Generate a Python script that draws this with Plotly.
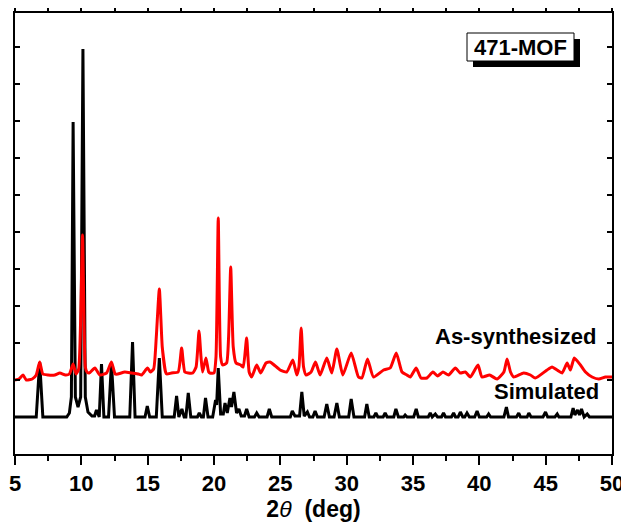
import plotly.graph_objects as go

# Simulated pattern (2theta, intensity in arbitrary units; baseline 0)
sim_x = [5.0,
         6.6, 6.86, 7.1,
         8.9, 9.1, 9.25, 9.38, 9.55, 9.75, 9.95, 10.12, 10.3, 10.5, 10.8,
         11.0, 11.14, 11.3,
         11.35, 11.52, 11.7,
         12.05, 12.27, 12.5,
         13.65, 13.86, 14.05,
         14.8, 14.97, 15.15,
         15.65, 15.88, 16.1,
         17.0, 17.18, 17.35, 17.58, 17.75,
         17.88, 18.06, 18.25,
         18.75, 18.89, 19.05,
         19.2, 19.36, 19.55,
         19.9, 20.12, 20.2, 20.32, 20.5, 20.7, 20.83, 21.0, 21.2, 21.32, 21.5, 21.7, 21.88, 22.05,
         22.3, 22.46, 22.65,
         23.05, 23.22, 23.4,
         24.0, 24.17, 24.35,
         25.75, 25.9, 26.1, 26.45, 26.62, 26.8, 27.04, 27.2,
         27.45, 27.62, 27.8,
         28.3, 28.5, 28.7,
         29.05, 29.26, 29.45,
         30.15, 30.34, 30.55,
         31.35, 31.52, 31.7,
         32.05, 32.2, 32.35,
         32.75, 32.9, 33.05,
         33.55, 33.71, 33.9,
         34.3, 34.41, 34.55,
         35.05, 35.24, 35.4,
         36.15, 36.3, 36.45, 36.68, 36.85,
         37.15, 37.3, 37.45,
         37.9, 38.06, 38.2, 38.4, 38.57, 38.75, 38.9, 39.07, 39.25,
         39.65, 39.83, 40.0,
         40.55, 40.7, 40.85,
         41.85, 42.04, 42.2,
         42.8, 42.97, 43.1,
         43.6, 43.73, 43.9,
         44.8, 44.99, 45.15,
         45.7, 45.87, 46.0,
         46.9, 47.07, 47.2, 47.4, 47.55, 47.7, 47.9, 48.13, 48.3,
         50.0]
sim_y = [0,
         0, 55, 0,
         0, 4, 20, 295, 20, 10, 20, 368, 20, 5, 1,
         1, 7, 0,
         0, 53, 0,
         0, 54, 0,
         0, 75, 0,
         0, 11, 0,
         0, 59, 0,
         0, 21, 0, 8, 0,
         0, 24, 0,
         0, 4, 0,
         0, 19, 0,
         0, 17, 12, 49, 3, 3, 14, 4, 19, 10, 25, 4, 8, 1,
         1, 8, 0,
         0, 4, 0,
         0, 8, 0,
         0, 6, 1, 1, 25, 1, 5, 0,
         0, 6, 0,
         0, 13, 0,
         0, 14, 0,
         0, 18, 0,
         0, 13, 0,
         0, 4, 0,
         0, 4, 0,
         0, 8, 0,
         0, 2, 0,
         0, 8, 0,
         0, 4, 0, 3, 0,
         0, 4, 0,
         0, 4, 0, 0, 5, 0, 0, 4, 0,
         0, 6, 0,
         0, 3, 0,
         0, 10, 0,
         0, 4, 0,
         0, 4, 0,
         0, 5, 0,
         0, 3, 0,
         0, 9, 2, 7, 2, 8, 0, 3, 0,
         0]

# As-synthesized pattern (already offset above the simulated one)
exp_x = [5.0, 5.3, 5.6, 5.85, 6.3, 6.6, 6.86, 7.1, 7.5, 8.0, 8.38, 8.8, 9.1, 9.38, 9.6,
         9.8, 10.09, 10.3, 10.43, 10.6, 11.02, 11.4, 11.9, 12.27, 12.55, 12.75, 13.28,
         13.78, 14.3, 14.54, 14.99, 15.2, 15.45, 15.65, 15.88, 16.1, 16.35, 16.43, 16.8,
         17.3, 17.56, 17.8, 18.06, 18.4, 18.65, 18.87, 19.02, 19.14, 19.39, 19.6, 19.69,
         20.0, 20.15, 20.32, 20.5, 20.65, 20.95, 21.1, 21.26, 21.45, 21.66, 22.01, 22.2,
         22.46, 22.65, 22.84, 23.22, 23.52, 23.92, 24.22, 24.53, 24.98, 25.48, 25.94,
         26.24, 26.4, 26.57, 26.75, 26.94, 27.32, 27.65, 28.0, 28.5, 28.88, 29.26, 29.71,
         30.34, 30.89, 31.15, 31.57, 32.02, 32.78, 33.28, 33.74, 34.17, 34.54, 34.8,
         35.24, 35.6, 36.05, 36.5, 36.85, 37.26, 37.68, 38.19, 38.56, 38.94, 39.32, 39.9,
         40.2, 40.77, 41.33, 41.85, 42.09, 42.35, 42.59, 43.34, 43.85, 44.22, 45.1, 45.48,
         45.86, 46.24, 46.62, 46.86, 47.16, 47.62, 48.0, 48.5, 49.0, 49.51, 50.0]
exp_y = [37, 38, 42, 37, 38, 42, 55, 43, 42, 42, 44, 42, 43, 53, 43,
         48, 182, 50, 45, 44, 49, 42, 44, 55, 43, 43, 45,
         44, 43, 42, 49, 45, 48, 80, 128, 70, 45, 43, 44,
         45, 69, 45, 44, 44, 50, 86, 60, 45, 59, 45, 44,
         44, 60, 199, 60, 52, 54, 80, 150, 70, 54, 52, 50,
         79, 45, 40, 52, 44, 54, 55, 52, 47, 45, 57,
         42, 50, 89, 50, 42, 45, 55, 42, 59, 44, 68, 42,
         64, 40, 39, 58, 40, 47, 49, 64, 45, 42, 40,
         49, 39, 39, 45, 41, 45, 42, 49, 44, 45, 40, 52,
         40, 42, 38, 45, 58, 45, 40, 44, 42, 39, 47, 50,
         47, 44, 54, 47, 59, 52, 45, 40, 38, 40, 40]

x_ticks = [5, 10, 15, 20, 25, 30, 35, 40, 45, 50]

FONT = "Liberation Sans, Arial, sans-serif"

fig = go.Figure()
fig.add_trace(go.Scatter(x=sim_x, y=sim_y, mode="lines", name="Simulated",
                         line=dict(color="black", width=3), showlegend=False))
fig.add_trace(go.Scatter(x=exp_x, y=exp_y, mode="lines", name="As-synthesized",
                         line=dict(color="#ff0000", width=3, shape="spline", smoothing=0.5),
                         showlegend=False))

# the page body adds an 8px offset; size the figure to fill the remaining window
OFF = 8
W, H = 629 - OFF, 527 - OFF
L, R, T, B = 15 - OFF, 17, 13 - OFF, 73
fig.update_layout(
    width=W, height=H,
    margin=dict(l=L, r=R, t=T, b=B),
    paper_bgcolor="white", plot_bgcolor="white",
    font=dict(family=FONT, color="black", size=22),
    xaxis=dict(range=[5, 50], tickvals=x_ticks,
               ticktext=[f"<b>{v}</b>" for v in x_ticks],
               ticks="outside", ticklen=9, tickwidth=2, tickcolor="black",
               minor=dict(dtick=2.5, tick0=5, ticks="outside", ticklen=5, tickwidth=1.5, tickcolor="black"),
               showline=True, linewidth=2, linecolor="black", mirror="ticks",
               showgrid=False, zeroline=False, automargin=False,
               tickfont=dict(size=22, family=FONT),
               title=dict(text="<b>2</b><i>θ</i><b>  (deg)</b>", font=dict(size=23, family=FONT), standoff=0)),
    yaxis=dict(range=[-37, 404], tick0=0, dtick=37,
               ticks="inside", ticklen=5, tickwidth=1.5, tickcolor="black",
               showticklabels=False, automargin=False,
               showline=True, linewidth=2, linecolor="black", mirror="ticks",
               showgrid=False, zeroline=False),
)

pw = W - L - R
ph = H - T - B
def px(x):
    return (x - OFF - L) / pw
def py(y):
    return (H - B - (y - OFF)) / ph

# 471-MOF label box with drop shadow
fig.add_shape(type="rect", xref="paper", yref="paper",
              x0=px(473), x1=px(580), y0=py(67), y1=py(39),
              fillcolor="black", line=dict(width=0))
fig.add_shape(type="rect", xref="paper", yref="paper",
              x0=px(467), x1=px(574), y0=py(61), y1=py(33),
              fillcolor="white", line=dict(color="black", width=1))
fig.add_annotation(xref="paper", yref="paper", x=px(520.5), y=py(47),
                   text="<b>471-MOF</b>", showarrow=False,
                   xanchor="center", yanchor="middle",
                   font=dict(size=22, family=FONT, color="black"))

fig.add_annotation(xref="paper", yref="paper", x=px(598), y=py(336),
                   text="<b>As-synthesized</b>", showarrow=False,
                   xanchor="right", yanchor="middle",
                   font=dict(size=22, family=FONT, color="black"))
fig.add_annotation(xref="paper", yref="paper", x=px(601), y=py(391),
                   text="<b>Simulated</b>", showarrow=False,
                   xanchor="right", yanchor="middle",
                   font=dict(size=22, family=FONT, color="black"))

fig.write_html("out.html")
